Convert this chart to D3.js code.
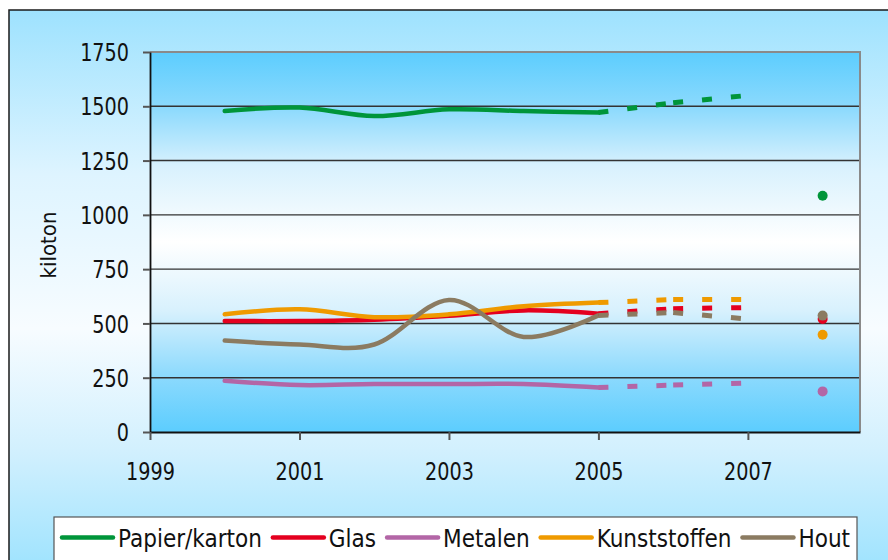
<!DOCTYPE html>
<html>
<head>
<meta charset="utf-8">
<script src="https://cdn.jsdelivr.net/npm/d3@7"></script>
<style>
  body { margin: 0; background: #fff; }
  svg text { font-family: "DejaVu Sans Condensed", "DejaVu Sans", sans-serif; font-stretch: condensed; fill: #111; }
</style>
</head>
<body>
<svg id="chart" width="888" height="560"></svg>
<script>
// measured years
const years = [2000, 2001, 2002, 2003, 2004, 2005]
// projection years (dashed)
const projYears = [2005, 2006, 2007]
const targetYear = 2008

const names = ['Papier/karton', 'Glas', 'Metalen', 'Kunststoffen', 'Hout']
const colors = ['#00953a', '#e4001f', '#b366a6', '#ef9a00', '#8b7b61']

const papier = [1478, 1494, 1455, 1486, 1478, 1471]
const glas = [511, 511, 517, 535, 560, 545]
const metalen = [236, 216, 221, 221, 221, 205]
const kunststoffen = [542, 565, 529, 542, 579, 596]
const hout = [421, 403, 403, 608, 438, 537]

const papierProj = [1471, 1516, 1550]
const glasProj = [545, 568, 573]
const metalenProj = [205, 216, 225]
const kunststoffenProj = [596, 610, 610]
const houtProj = [537, 550, 520]

const targets = [1088, 520, 187, 448, 536]

const yTicks = [0, 250, 500, 750, 1000, 1250, 1500, 1750]
const xTicks = [1999, 2001, 2003, 2005, 2007]

const series = names.map((n, i) => ({
  name: n,
  color: colors[i],
  values: [papier, glas, metalen, kunststoffen, hout][i],
  proj: [papierProj, glasProj, metalenProj, kunststoffenProj, houtProj][i],
  target: targets[i]
}))

const svg = d3.select('#chart')
const defs = svg.append('defs')

function grad(id, stops, y1, y2){
  let g = defs.append('linearGradient').attr('id', id)
    .attr('gradientUnits', 'userSpaceOnUse')
    .attr('x1', 0).attr('x2', 0).attr('y1', y1).attr('y2', y2)
  stops.forEach(s=>{
    g.append('stop').attr('offset', s[0]).attr('stop-color', s[1])
  })
}

grad('outerBg', [[0, '#9ee2fe'], [0.3, '#def4ff'], [0.58, '#f7fcff'], [0.8, '#d2f0fe'], [1, '#a2e4fe']], 10, 560)
grad('plotBg', [[0, '#5ccdfe'], [0.15, '#8ddafd'], [0.3, '#d8f1fd'], [0.5, '#ffffff'], [0.68, '#d8f1fd'], [0.85, '#8ddafd'], [1, '#5ccdfe']], 52, 432)

const x = d3.scaleLinear().domain([1999, 2008.5]).range([150, 860])
const y = d3.scaleLinear().domain([0, 1750]).range([432, 52])

// outer chart area
svg.append('rect')
  .attr('x', 9).attr('y', 10).attr('width', 900).attr('height', 570)
  .attr('fill', 'url(#outerBg)')
  .attr('stroke', '#1a1a1a').attr('stroke-width', 1.5)

// plot area
svg.append('rect')
  .attr('x', x(1999)).attr('y', y(1750))
  .attr('width', x(2008.5) - x(1999)).attr('height', y(0) - y(1750))
  .attr('fill', 'url(#plotBg)')

// grid
svg.append('g').selectAll('line')
  .data(yTicks.filter(d => d > 0 && d < 1750))
  .join('line')
  .attr('x1', x(1999)).attr('x2', x(2008.5))
  .attr('y1', d => y(d)).attr('y2', d => y(d))
  .attr('stroke', '#333').attr('stroke-width', 1.4)

// top + right border of plot
svg.append('path')
  .attr('d', `M${x(1999)},${y(1750)}H${x(2008.5)}V${y(0)}`)
  .attr('fill', 'none').attr('stroke', '#8a8a8a').attr('stroke-width', 2)

// axes
const sx = 0.89
const yAxis = svg.append('g')
  .attr('transform', `translate(${x(1999)},0)`)
  .call(d3.axisLeft(y).tickValues(yTicks).tickSize(7).tickSizeOuter(0).tickPadding(14).tickFormat(d3.format('d')))
yAxis.select('.domain').attr('stroke', '#111').attr('stroke-width', 1.8)
yAxis.selectAll('.tick line').attr('stroke', '#555').attr('stroke-width', 2)
yAxis.selectAll('.tick text')
  .style('font-size', '24px')
  .attr('dy', '0.36em')
  .attr('x', -21 / sx)
  .attr('transform', `scale(${sx},1)`)

const xAxis = svg.append('g')
  .attr('transform', `translate(0,${y(0)})`)
  .call(d3.axisBottom(x).tickValues(xTicks).tickSize(8).tickSizeOuter(0).tickPadding(23).tickFormat(d3.format('d')))
xAxis.select('.domain').attr('stroke', '#111').attr('stroke-width', 1.8)
xAxis.selectAll('.tick line').attr('stroke', '#555').attr('stroke-width', 2)
xAxis.selectAll('.tick text')
  .style('font-size', '24px')
  .attr('transform', `scale(${sx},1)`)

svg.append('text')
  .attr('transform', `translate(56,${(y(0) + y(1750)) / 2 + 3}) rotate(-90)`)
  .attr('text-anchor', 'middle')
  .style('font-size', '22px')
  .text('kiloton')

// series
const line = d3.line()
  .x((d, i) => x(years[i]))
  .y(d => y(d))
  .curve(d3.curveCardinal.tension(0))

const lines = svg.append('g')
series.forEach(s=>{
  lines.append('path')
    .attr('d', line(s.values))
    .attr('fill', 'none')
    .attr('stroke', s.color)
    .attr('stroke-width', 4.5)
    .attr('stroke-linecap', 'round')
    .attr('stroke-linejoin', 'round')
})

// projections: dash pattern restarts on every segment
series.forEach(s=>{
  d3.pairs(projYears.map((yr, i) => [yr, s.proj[i]])).forEach(p=>{
    lines.append('line')
      .attr('x1', x(p[0][0])).attr('y1', y(p[0][1]))
      .attr('x2', x(p[1][0])).attr('y2', y(p[1][1]))
      .attr('stroke', s.color)
      .attr('stroke-width', 5)
      .attr('stroke-dasharray', '10,19')
  })
})

// 2008 targets
lines.selectAll('circle')
  .data(series)
  .join('circle')
  .attr('cx', x(targetYear))
  .attr('cy', d => y(d.target))
  .attr('r', 5)
  .attr('fill', d => d.color)

// legend
const legend = svg.append('g')
legend.append('rect')
  .attr('x', 54).attr('y', 517).attr('width', 803).attr('height', 60)
  .attr('fill', '#fff').attr('stroke', '#555').attr('stroke-width', 1.2)

let lx = 62
series.forEach(s=>{
  legend.append('line')
    .attr('x1', lx).attr('x2', lx + 51)
    .attr('y1', 537.5).attr('y2', 537.5)
    .attr('stroke', s.color).attr('stroke-width', 4.5)
    .attr('stroke-linecap', 'round')
  let t = legend.append('text')
    .attr('x', lx + 56).attr('y', 547)
    .style('font-size', '24px')
    .text(s.name)
  lx += 56 + t.node().getComputedTextLength() + 11
})
</script>
</body>
</html>
